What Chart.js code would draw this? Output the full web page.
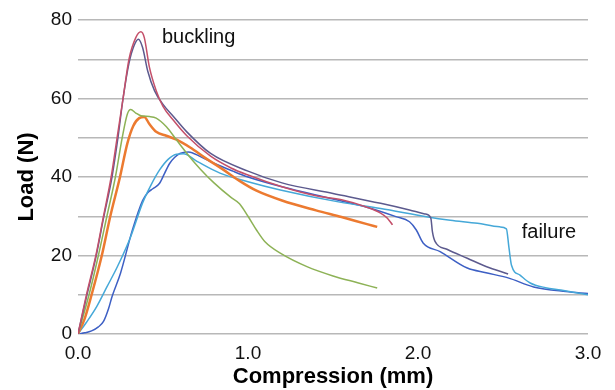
<!DOCTYPE html>
<html>
<head>
<meta charset="utf-8">
<script src="https://cdn.jsdelivr.net/npm/chart.js@4.4.0/dist/chart.umd.min.js"></script>
<style>
    body { margin: 0; background: #fff; }
    #wrap { width: 615px; height: 390px; }
</style>
</head>
<body>
<div id="wrap"><canvas id="loadChart" width="615" height="390"></canvas></div>
<script>
// tick labels
var xTickLabels = ['0.0', '1.0', '2.0', '3.0'];
var yTickLabels = [0, 20, 40, 60, 80];

// load-compression curves, [compression mm, load N]
var curvePink = [[0,0],[0.05,10],[0.105,20],[0.15,30],[0.195,40],[0.23,50],[0.265,60],[0.30,70],[0.34,75.5],[0.37,77],[0.39,75.5],[0.42,68],[0.46,62],[0.5,58],[0.56,54.5],[0.64,50.5],[0.78,45.3],[0.9,42.3],[1.0,40.5],[1.2,37.5],[1.4,35.2],[1.55,34.2],[1.7,32.3],[1.78,30.8],[1.82,29.5],[1.85,27.8]];
var curvePurple = [[0,0],[0.05,9.5],[0.105,19.5],[0.15,29.5],[0.2,40],[0.235,50],[0.265,60],[0.3,69],[0.33,73.5],[0.355,75.1],[0.38,73],[0.41,67],[0.45,62],[0.5,58.5],[0.56,55.5],[0.64,51.5],[0.78,46],[1.0,41.5],[1.2,38.5],[1.5,35.8],[1.78,33.3],[1.95,31.6],[2.04,30.6],[2.075,29.6],[2.085,26],[2.1,23.6],[2.17,21.6],[2.29,19.3],[2.4,17.2],[2.53,15.3]];
var curveGreen = [[0,0],[0.065,10],[0.12,20],[0.17,30],[0.22,40],[0.26,50],[0.29,56],[0.31,57.2],[0.34,56.3],[0.37,55.6],[0.42,55.4],[0.46,55],[0.52,52.8],[0.58,49.4],[0.65,45.5],[0.72,42],[0.8,38.5],[0.9,34.8],[0.95,33.2],[1.0,30],[1.05,26.5],[1.1,23.5],[1.19,20.6],[1.35,17.1],[1.5,14.8],[1.65,13],[1.76,11.7]];
var curveOrange = [[0,0],[0.04,4],[0.08,10],[0.14,20],[0.19,30],[0.247,40],[0.29,48.5],[0.325,53],[0.36,55],[0.39,55.3],[0.42,53.5],[0.46,51.5],[0.52,50.5],[0.58,49.5],[0.66,47.5],[0.75,44.8],[0.85,42],[0.95,39],[1.05,36.5],[1.2,34],[1.4,31.5],[1.55,29.8],[1.7,28],[1.76,27.3]];
var curveCyan = [[0,0],[0.05,3],[0.11,7],[0.17,12],[0.23,17],[0.31,24.8],[0.38,33.4],[0.43,38],[0.48,41.8],[0.53,44.5],[0.58,45.8],[0.62,45.9],[0.7,44],[0.835,41],[1.0,38.8],[1.19,36.7],[1.54,33.6],[1.78,32],[2.05,29.9],[2.19,29],[2.35,28.2],[2.48,27.3],[2.52,26.8],[2.535,22],[2.55,17.5],[2.6,15],[2.66,13],[2.75,11.8],[2.84,11.2],[3.0,10]];
var curveBlue = [[0,0],[0.04,0.3],[0.08,0.8],[0.12,1.8],[0.15,3.2],[0.18,6.5],[0.2,9.5],[0.25,15.5],[0.32,26.5],[0.38,34],[0.41,36],[0.44,37],[0.48,38.4],[0.51,41],[0.54,43.5],[0.6,46],[0.65,46.4],[0.72,45.2],[0.8,43.5],[0.91,41.5],[1.0,40],[1.2,37.5],[1.5,34.4],[1.7,32.3],[1.87,29.9],[1.95,28.6],[1.99,26.5],[2.03,23.2],[2.13,21],[2.29,16.8],[2.4,15.6],[2.53,14.3],[2.68,12],[2.87,10.8],[3.0,10.3]];

var curves = [curvePink, curvePurple, curveGreen, curveOrange, curveCyan, curveBlue];
var curveColors = ['#c4506a', '#5c5a8e', '#8db256', '#ec7a30', '#45a8d8', '#3d5fc4'];
var curveWidths = [1.5, 1.5, 1.5, 2.5, 1.5, 1.5];

// text notes placed in data coordinates
var notes = [
    { text: 'buckling', x: 0.494, y: 74.1 },
    { text: 'failure', x: 2.61, y: 24.5 }
];

var fontFamily = "'Liberation Sans', Arial, sans-serif";

var notesPlugin = {
    id: 'notes',
    afterDatasetsDraw: function (chart) {
        var ctx = chart.ctx;
        ctx.save();
        ctx.font = '20px ' + fontFamily;
        ctx.fillStyle = '#111';
        ctx.textAlign = 'left';
        ctx.textBaseline = 'alphabetic';
        notes.forEach(function (n) {
            ctx.fillText(n.text, chart.scales.x.getPixelForValue(n.x), chart.scales.y.getPixelForValue(n.y));
        });
        ctx.restore();
    }
};

var datasets = curves.map(function (c, i) {
    return {
        data: c.map(function (p) { return { x: p[0], y: p[1] }; }),
        borderColor: curveColors[i],
        borderWidth: curveWidths[i],
        fill: false
    };
});

var ctx = document.getElementById('loadChart').getContext('2d');
var loadChart = new Chart(ctx, {
    type: 'line',
    data: { datasets: datasets },
    plugins: [notesPlugin],
    options: {
        responsive: false,
        animation: false,
        devicePixelRatio: 1,
        layout: { padding: { top: 20, right: 27, left: 0, bottom: 0 } },
        elements: {
            point: { radius: 0 },
            line: { cubicInterpolationMode: 'monotone' }
        },
        plugins: {
            legend: { display: false },
            tooltip: { enabled: false }
        },
        scales: {
            x: {
                type: 'linear',
                min: 0,
                max: 3,
                afterFit: function (scale) { scale.height = 56; },
                grid: { display: false },
                border: { display: false },
                ticks: {
                    stepSize: 1,
                    padding: 0,
                    color: '#111',
                    font: { size: 19, family: fontFamily },
                    callback: function (v) { return xTickLabels[Math.round(v)]; }
                },
                title: {
                    display: true,
                    text: 'Compression (mm)',
                    color: '#000',
                    font: { size: 22, weight: 'bold', family: fontFamily },
                    padding: { top: 0, bottom: 0 }
                }
            },
            y: {
                min: 0,
                max: 80,
                afterFit: function (scale) { scale.width = 78; },
                grid: { color: '#b8b8b8', lineWidth: 1.5, drawTicks: false },
                border: { display: false },
                ticks: {
                    stepSize: 10,
                    padding: 6,
                    color: '#111',
                    font: { size: 19, family: fontFamily },
                    callback: function (v) { return yTickLabels.indexOf(v) >= 0 ? String(v) : ''; }
                },
                title: {
                    display: true,
                    text: 'Load (N)',
                    color: '#000',
                    font: { size: 22, weight: 'bold', family: fontFamily },
                    padding: { top: 14, bottom: 0 }
                }
            }
        }
    }
});
</script>
</body>
</html>
